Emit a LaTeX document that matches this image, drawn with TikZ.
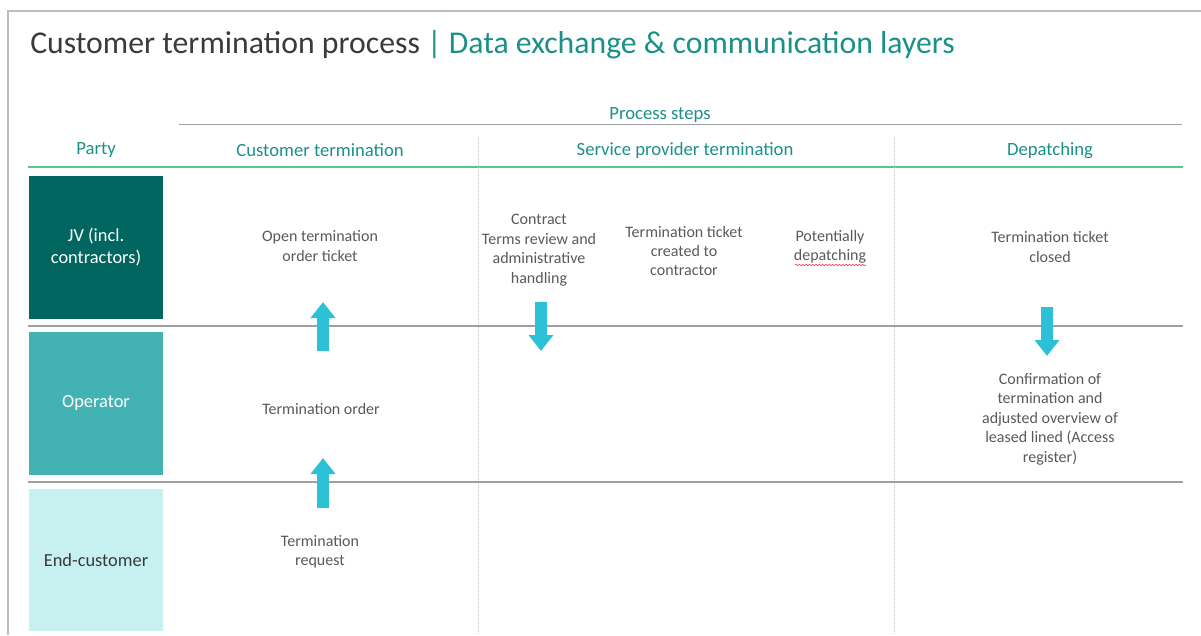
\documentclass[tikz,border=0pt]{standalone}
\usepackage{fontspec}
\setmainfont{Carlito}
\usetikzlibrary{arrows.meta,decorations.pathmorphing}

\definecolor{titlegray}{HTML}{3A3A3A}
\definecolor{textgray}{HTML}{595959}
\definecolor{headteal}{HTML}{1A9088}
\definecolor{rulegreen}{HTML}{4FCB8C}
\definecolor{rulegray}{HTML}{A0A0A0}
\definecolor{jvcol}{HTML}{00665F}
\definecolor{opcol}{HTML}{42B2B2}
\definecolor{eccol}{HTML}{C7F1F1}
\definecolor{arrowcol}{HTML}{2DC1D8}

\begin{document}
\begin{tikzpicture}[x=0.75pt,y=-0.75pt,
  party/.style={minimum width=100.5pt,minimum height=107pt,inner sep=0pt,
    align=center,font=\fontsize{13.8}{16.5}\selectfont},
  head/.style={text=headteal,font=\fontsize{14}{16}\selectfont},
  stepbox/.style={text=textgray,align=center,font=\fontsize{12}{14.6}\selectfont},
  flow/.style={arrowcol,line width=9pt,-{Triangle[width=18pt,length=12pt]}},
  sep/.style={rulegray!60,densely dotted,line width=0.5pt}]
\useasboundingbox (0,0) rectangle (1201,635);

% frame
\draw[rulegray!70,line width=1.5pt] (8,635) -- (8,11) -- (1201,11);

% title
\node[anchor=base west,inner sep=0pt,font=\fontsize{23.8}{28}\selectfont] (title) at (30,54)
  {\textcolor{titlegray}{Customer termination process} \textcolor{headteal}{| Data exchange \& communication layers}};

% header
\node[head] (steps) at (660,115) {Process steps};
\draw[rulegray,line width=0.75pt] (179,124) -- (1182,124);
\node[head] (party) at (96,150.5) {Party};
\node[head] (h1) at (320,150.5) {Customer termination};
\node[head] (h2) at (685,150.5) {Service provider termination};
\node[head] (h3) at (1050,150.5) {Depatching};
\draw[rulegreen,line width=1.5pt] (28,167) -- (1183,167);

% columns and rows
\draw[sep] (478,137) -- (478,635);
\draw[sep] (894,137) -- (894,635);
\draw[rulegray,line width=1.5pt] (28,326) -- (1183,326);
\draw[rulegray,line width=1.5pt] (28,482) -- (1183,482);

% parties
\node[party,fill=jvcol,text=white] (jv) at (96,247.5) {JV (incl.\\contractors)};
\node[party,fill=opcol,text=white] (op) at (96,403.5) {Operator};
\node[party,fill=eccol,text=titlegray] (ec) at (96,560) {End-customer};

% steps
\node[stepbox] (open)    at (320,246) {Open termination\\order ticket};
\node[stepbox] (order)   at (321,409) {Termination order};
\node[stepbox] (request) at (320,552) {Termination\\request};
\node[stepbox] (review)  at (539,250) {Contract\\Terms review and\\administrative\\handling};
\node[stepbox] (created) at (684,251) {Termination ticket\\created to\\contractor};
\node[stepbox] (maybe)   at (830,247) {Potentially\\depatching};
\node[stepbox] (closed)  at (1050,247) {Termination ticket\\closed};
\node[stepbox] (confirm) at (1050,419) {Confirmation of\\termination and\\adjusted overview of\\leased lined (Access\\register)};
\draw[red!80,line width=0.4pt,decorate,decoration={snake,amplitude=0.6pt,segment length=2.5pt}]
  (795,265) -- (866,265);

% arrows
\coordinate (a1s) at (323,351); \coordinate (a1e) at (323,302);
\coordinate (a2s) at (323,508); \coordinate (a2e) at (323,458);
\coordinate (a3s) at (541,302); \coordinate (a3e) at (541,351);
\coordinate (a4s) at (1047,307); \coordinate (a4e) at (1047,356);
\foreach \s/\e in {a1s/a1e,a2s/a2e,a3s/a3e,a4s/a4e}
  \draw[flow] (\s) -- (\e);

\end{tikzpicture}
\end{document}
